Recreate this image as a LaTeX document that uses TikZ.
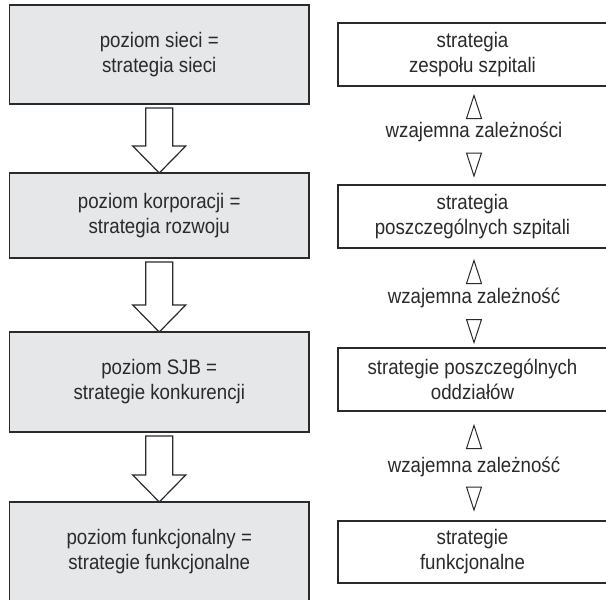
\documentclass[tikz,border=0pt]{standalone}
\usepackage{fontspec}
\setmainfont[FakeStretch=0.89]{Liberation Sans}
\usetikzlibrary{calc}
\definecolor{boxgray}{HTML}{E6E7E8}
\definecolor{ink}{HTML}{2A2A2A}
\tikzset{
  uptri/.pic={\draw[tri] (-7.5,11.5) -- (0,-11.5) -- (7.5,11.5) -- cycle;},
  downtri/.pic={\draw[tri] (-7.5,-11.5) -- (0,11.5) -- (7.5,-11.5) -- cycle;}
}
% hollow block arrow from the bottom of one level box to the top of the next
\newcommand\levelarrow[2]{%
  \draw[arrowline] ($(#1.south)+(-13.5,4)$) -- ($(#2.north)+(-13.5,-27)$)
    -- ($(#2.north)+(-26.5,-27)$) -- (#2.north) -- ($(#2.north)+(26.5,-27)$)
    -- ($(#2.north)+(13.5,-27)$) -- ($(#1.south)+(13.5,4)$) -- cycle;}
\begin{document}
\begin{tikzpicture}[x=1pt,y=-1pt,
  every node/.style={inner sep=0pt, outer sep=0pt, text=ink, align=center,
    font=\fontsize{21}{25}\selectfont},
  levelbox/.style={draw=ink, line width=1.4pt, fill=boxgray, minimum width=299.5pt},
  stratbox/.style={draw=ink, line width=1.2pt, fill=white, minimum width=269pt},
  arrowline/.style={draw=ink, line width=1.2pt, fill=white, line join=miter},
  tri/.style={draw=ink, line width=1pt, fill=white, line join=miter}]
\clip (0,0) rectangle (606,600);
\fill[white] (0,0) rectangle (606,600);

% levels of strategy
\node[levelbox, minimum height=99pt]  (L1) at (159.25,54.5) {poziom sieci =\\strategia sieci};
\node[levelbox, minimum height=85pt]  (L2) at (159.25,215.5) {poziom korporacji =\\strategia rozwoju};
\node[levelbox, minimum height=100pt] (L3) at (159.25,382) {poziom SJB =\\strategie konkurencji};
\node[levelbox, minimum height=100pt] (L4) at (159.25,552) {poziom funkcjonalny =\\strategie funkcjonalne};

\levelarrow{L1}{L2}
\levelarrow{L2}{L3}
\levelarrow{L3}{L4}

% hospital strategies
\node[stratbox, minimum height=63pt] (R1) at (472.5,54.5) {strategia\\zespołu szpitali};
\node[stratbox, minimum height=63pt] (R2) at (472.5,216.5) {strategia\\poszczególnych szpitali};
\node[stratbox, minimum height=63pt] (R3) at (472.5,379.5) {strategie poszczególnych\\oddziałów};
\node[stratbox, minimum height=62pt] (R4) at (472.5,552) {strategie\\funkcjonalne};

% mutual dependence between neighbouring strategies
\node (D1) at (474,132) {wzajemna zależności};
\node (D2) at (474,298) {wzajemna zależność};
\node (D3) at (474,467) {wzajemna zależność};

\pic at (474,107) {uptri};
\pic at (474,164.5) {downtri};
\pic at (474,272) {uptri};
\pic at (474,331) {downtri};
\pic at (474,437) {uptri};
\pic at (474,498.5) {downtri};
\end{tikzpicture}
\end{document}
